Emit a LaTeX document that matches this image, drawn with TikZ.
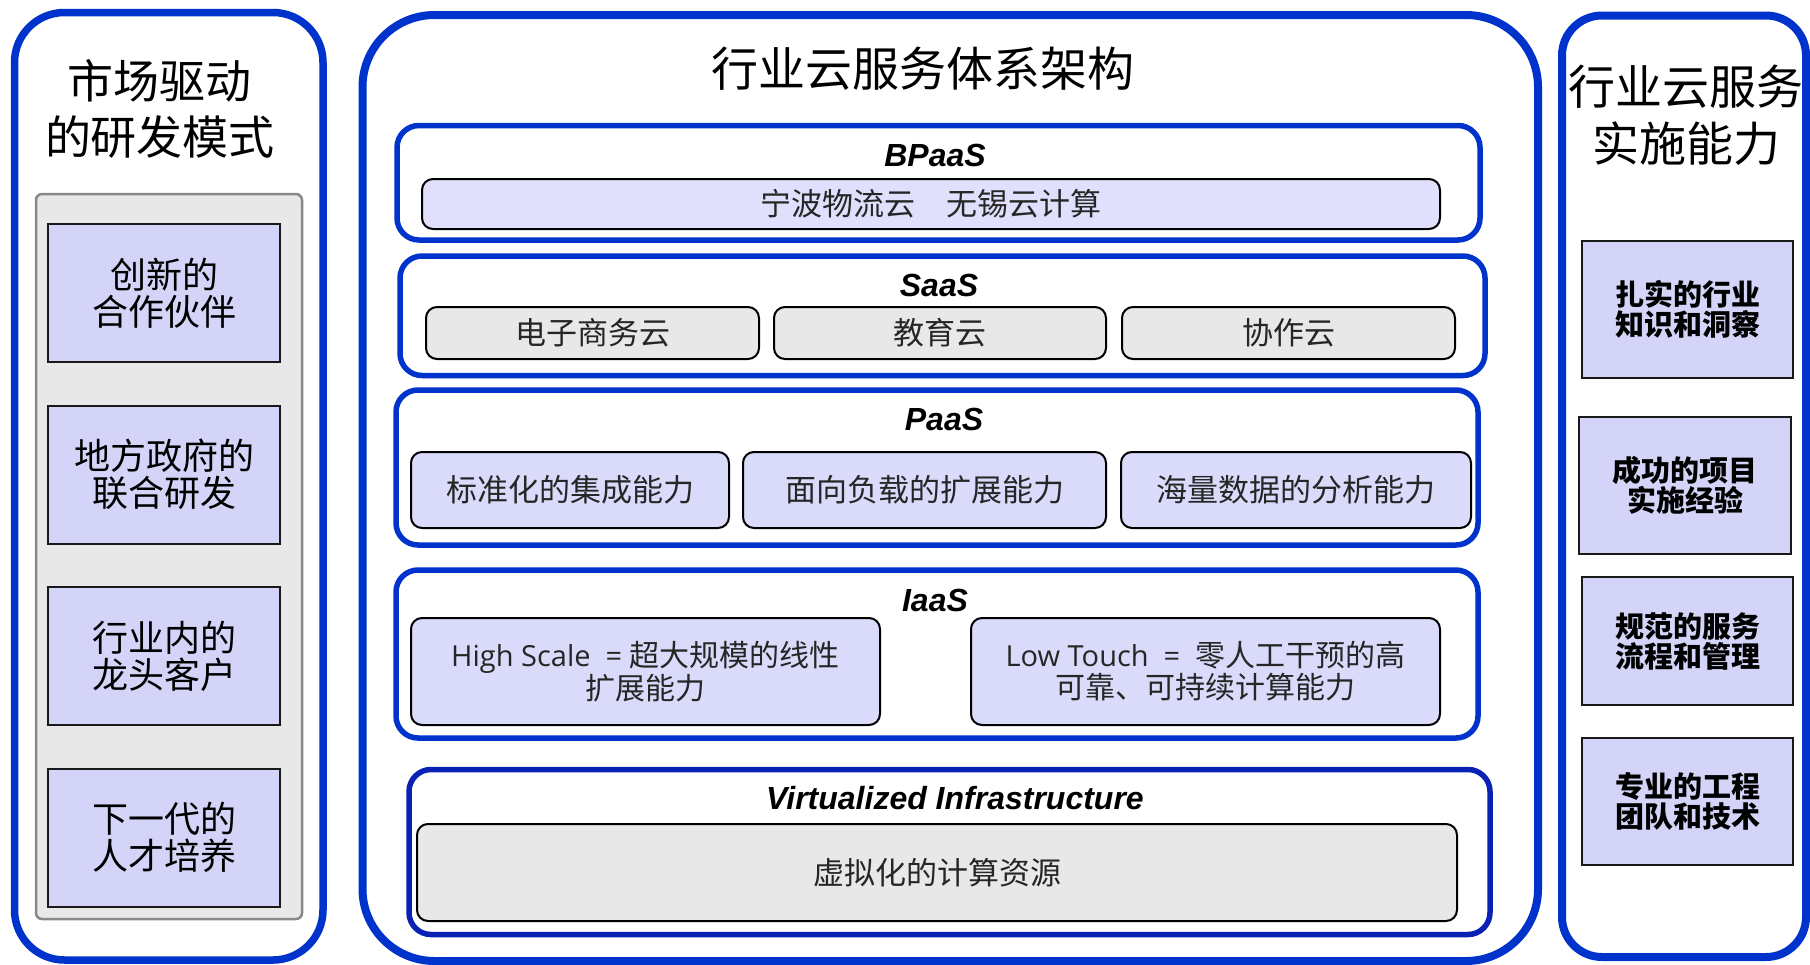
\documentclass[tikz,border=0pt]{standalone}
\usepackage{fontspec}
\newfontfamily\cjk{Noto Sans CJK SC}
\newfontfamily\arialf{Liberation Sans}
\newfontfamily\osans{Open Sans}
\definecolor{pblue}{RGB}{0,51,204}
\definecolor{dblue}{RGB}{10,34,180}
\definecolor{lavA}{RGB}{212,212,248}
\definecolor{lavB}{RGB}{224,224,252}
\definecolor{lavC}{RGB}{218,218,250}
\definecolor{grayF}{RGB}{232,232,232}
\definecolor{grayD}{RGB}{136,136,136}
\begin{document}
\begin{tikzpicture}[x=1pt,y=-1pt,
  every node/.style={inner sep=0pt, outer sep=0pt},
  panel/.style={draw=pblue, line width=8pt, rounded corners=#1},
  layer/.style={draw=pblue, line width=5.5pt, rounded corners=22pt},
  lavbox/.style={draw=black, line width=2pt, rounded corners=11pt, fill=lavC, text=black!85,
     font={\cjk\fontsize{31}{31}\selectfont}},
  graybox/.style={draw=black, line width=2pt, rounded corners=11pt, fill=grayF, text=black!85,
     font={\cjk\fontsize{31}{31}\selectfont}},
  sqbox/.style={draw=black!90, line width=2pt, fill=lavA, align=center},
  ptitle/.style={align=center, font={\cjk\fontsize{47}{57}\selectfont}},
  lname/.style={font={\arialf\bfseries\itshape\fontsize{32}{32}\selectfont}}
]
\useasboundingbox (0,0) rectangle (1810,964);

% ---------- left panel ----------
\node[panel=50pt, minimum width=308.5, minimum height=947.5, line width=7.5pt] (left) at (168.75,486.25) {};
\node[ptitle, font={\cjk\fontsize{46}{56}\selectfont}] (lt) at (160,109) {市场驱动\\的研发模式};
\node[draw=grayD, fill=grayF, line width=2.5pt, rounded corners=6pt, minimum width=266, minimum height=725] (gray) at (169,556.5) {};
\begin{scope}[every node/.append style={sqbox, minimum width=232, minimum height=138, font={\cjk\fontsize{36}{37}\selectfont}}]
\node (l1) at (164,293) {创新的\\合作伙伴};
\node (l2) at (164,474.5) {地方政府的\\联合研发};
\node (l3) at (164,656) {行业内的\\龙头客户};
\node (l4) at (164,837.5) {下一代的\\人才培养};
\end{scope}

% ---------- centre panel ----------
\node[panel=72pt, minimum width=1175.5, minimum height=946] (mid) at (950.25,488) {};
\node[ptitle] (mt) at (923,69) {行业云服务体系架构};

% BPaaS
\node[layer, minimum width=1083, minimum height=114.5] (bp) at (938.5,182.75) {};
\node[lname] (bpl) at (935,155) {BPaaS};
\node[lavbox, fill=lavB, minimum width=1018, minimum height=50] (bp1) at (931,204) {宁波物流云　无锡云计算};

% SaaS
\node[layer, minimum width=1085, minimum height=119.5] (sa) at (942.5,315.75) {};
\node[lname] (sal) at (939,285) {SaaS};
\node[graybox, minimum width=333, minimum height=52] (sa1) at (592.5,333) {电子商务云};
\node[graybox, minimum width=332, minimum height=52] (sa2) at (940,333) {教育云};
\node[graybox, minimum width=333, minimum height=52] (sa3) at (1288.5,333) {协作云};

% PaaS
\node[layer, minimum width=1082, minimum height=155] (pa) at (937,467.5) {};
\node[lname] (pal) at (944,419) {PaaS};
\node[lavbox, minimum width=318, minimum height=76] (pa1) at (570,490) {标准化的集成能力};
\node[lavbox, minimum width=363, minimum height=76] (pa2) at (924.5,490) {面向负载的扩展能力};
\node[lavbox, minimum width=350, minimum height=76] (pa3) at (1296,490) {海量数据的分析能力};

% IaaS
\node[layer, minimum width=1082, minimum height=168] (ia) at (937,654) {};
\node[lname] (ial) at (935,600) {IaaS};
\node[lavbox, align=center, minimum width=469, minimum height=107,
      font={\cjk\fontsize{30}{32}\selectfont}] (ia1) at (645.5,671.5)
      {{\osans\fontsize{29}{32}\selectfont High Scale\ \ =\ }超大规模的线性\\扩展能力};
\node[lavbox, align=center, minimum width=469, minimum height=107,
      font={\cjk\fontsize{30}{32}\selectfont}] (ia2) at (1205.5,671.5)
      {{\osans\fontsize{29}{32}\selectfont Low Touch\ \ =\ \ }零人工干预的高\\可靠、可持续计算能力};

% Virtualized
\node[layer, draw=dblue, minimum width=1081, minimum height=165] (vi) at (949.5,852) {};
\node[lname] (vil) at (955,798) {Virtualized Infrastructure};
\node[graybox, minimum width=1040, minimum height=97] (vi1) at (937,872.5) {虚拟化的计算资源};

% ---------- right panel ----------
\node[panel=40pt, minimum width=244, minimum height=941.5] (right) at (1684,486.25) {};
\node[ptitle] (rt) at (1686,114.75) {行业云服务\\实施能力};
\begin{scope}[every node/.append style={sqbox, font={\cjk\bfseries\fontsize{29}{30}\selectfont}}]
\node[minimum width=211, minimum height=137] (r1) at (1687.5,309.5) {扎实的行业\\知识和洞察};
\node[minimum width=212, minimum height=137] (r2) at (1685,485.5) {成功的项目\\实施经验};
\node[minimum width=211, minimum height=128] (r3) at (1687.5,641) {规范的服务\\流程和管理};
\node[minimum width=211, minimum height=127] (r4) at (1687.5,801.5) {专业的工程\\团队和技术};
\end{scope}
\end{tikzpicture}
\end{document}
